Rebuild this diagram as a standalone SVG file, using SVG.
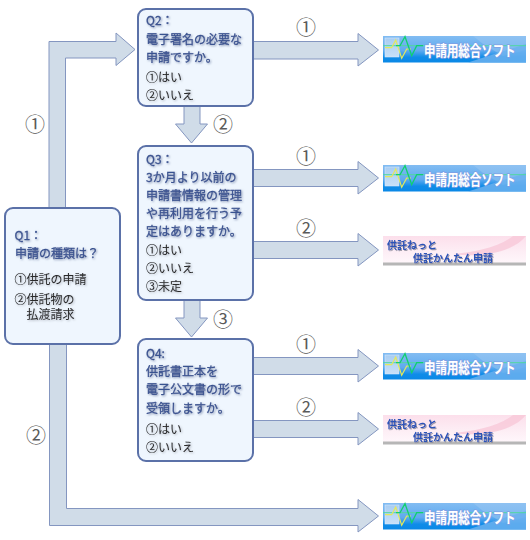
<svg xmlns="http://www.w3.org/2000/svg" xmlns:xlink="http://www.w3.org/1999/xlink" width="530" height="540" viewBox="0 0 530 540">
<style>
text{font-family:"Noto Sans CJK JP","Noto Sans",sans-serif}
.box{fill:#eff6fe;stroke:#5b71a8;stroke-width:2}
.arr{fill:#d0dce8;stroke:#8496c0;stroke-width:1}
.q{font-size:12px;fill:#3a5290;stroke:#3a5290;stroke-width:.3px;filter:url(#qs)}
.o{font-size:12px;fill:#2a2a2a;stroke:#2a2a2a;stroke-width:.15px;filter:url(#os)}
.n{font-size:20px;fill:#5a5a5a;text-anchor:middle}
.st{font-size:14.500px;font-weight:700;fill:#fff;stroke:#7f9fe4;stroke-width:1.5px;paint-order:stroke}
.pt{font-size:10px;font-weight:700;fill:#2a52b8;filter:url(#ps)}
</style>
<defs>
<filter id="qs" x="-10%" y="-30%" width="120%" height="170%"><feDropShadow dx="1" dy="1" stdDeviation="0.9" flood-color="#8090b0" flood-opacity="0.9"/></filter>
<filter id="os" x="-10%" y="-30%" width="120%" height="170%"><feDropShadow dx="1" dy="1" stdDeviation="0.8" flood-color="#a8aeb8" flood-opacity="0.8"/></filter>
<filter id="ps" x="-10%" y="-30%" width="120%" height="170%"><feDropShadow dx="1" dy="1" stdDeviation="0.5" flood-color="#8a8a9a" flood-opacity="0.8"/></filter>
<linearGradient id="bb" x1="0" y1="0" x2="0" y2="1"><stop offset="0" stop-color="#82bcf2"/><stop offset="0.55" stop-color="#5eaaf0"/><stop offset="0.8" stop-color="#0f8ce8"/><stop offset="1" stop-color="#0a88e6"/></linearGradient>
<linearGradient id="bs" x1="0" y1="0" x2="0" y2="1"><stop offset="0" stop-color="#a8cdf2"/><stop offset="1" stop-color="#c8e0f8"/></linearGradient>
<linearGradient id="pb" x1="0" y1="0" x2="0" y2="1"><stop offset="0" stop-color="#fcdfeb"/><stop offset="0.55" stop-color="#fdeef5"/><stop offset="1" stop-color="#fff8fc"/></linearGradient>
<g id="softbg">
<rect width="143" height="26.5" fill="url(#bb)"/>
<path d="M90 0L143 0L143 14L120 20L100 8Z" fill="#9cc8f2" opacity="0.5"/>
<path d="M85 26.5L143 8V26.5Z" fill="#6ab0ee" opacity="0.85"/>
<rect x="2" y="2" width="14" height="19" fill="url(#bs)" stroke="#d6e8fa" stroke-width="0.6"/>
<path d="M0 9.7H143" stroke="#4fd8a0" stroke-width="1" fill="none"/>
<path d="M2 11.7H8.7L12.7 4L18.7 22.3L23.7 13H28" stroke="#e4e85c" stroke-width="1.2" fill="none"/>
<path d="M13 9.7H17L22 .7L28.7 19.7L33.7 9.7H40" stroke="#10d070" stroke-width="1.3" fill="none"/>
</g>
<g id="pinkbg">
<rect width="143" height="29" fill="url(#pb)"/>
<path d="M70 18C90 16 115 12 130 0H143V0C130 16 100 22 70 18Z" fill="#f8c8d8" opacity="0.8"/>
<rect y="26.5" width="143" height="3" fill="#b6b6b6"/>
</g>
</defs>
<rect width="530" height="540" fill="#fff"/>
<g id="connectors">
<path class="arr" d="M49 208V41.5H116V33L135 49.5L116 65.5V58H65.500V208Z"/>
<path class="arr" d="M253 41.500H358V33.500L378.500 50L358 66V59H253Z"/>
<path class="arr" d="M184 106V124H175.500L191.500 143L207.500 124H200V106Z"/>
<path class="arr" d="M253 169.500H358V161.500L378.500 178L358 194V186.500H253Z"/>
<path class="arr" d="M253 241.500H358V233.500L378.500 250L358 266V258.500H253Z"/>
<path class="arr" d="M184 300V318H175.500L191.500 337L207.500 318H200V300Z"/>
<path class="arr" d="M253 357.500H358V349.500L378.500 366L358 382V374.500H253Z"/>
<path class="arr" d="M253 420.500H358V412.500L378.500 429L358 445V437.500H253Z"/>
<path class="arr" d="M49.500 344V525.500H358V532L378.500 516L358 499.500V508.500H66.500V344Z"/>
</g>
<g id="labels">
<text class="n" x="35" y="131.500">①</text>
<text class="n" x="223" y="131.500">②</text>
<text class="n" x="223" y="326.500">③</text>
<text class="n" x="36" y="442.500">②</text>
<text class="n" x="306" y="34.500">①</text>
<text class="n" x="306" y="163.500">①</text>
<text class="n" x="306" y="235.500">②</text>
<text class="n" x="306" y="351.500">①</text>
<text class="n" x="306" y="414.500">②</text>
</g>
<g id="q1">
<rect class="box" x="5" y="208" width="115" height="136" rx="8"/>
<text class="q" x="14.500" y="240">Q1：</text>
<text class="q" x="15" y="258">申請の種類は？</text>
<text class="o" x="14.500" y="283.500">①供託の申請</text>
<text class="o" x="14.500" y="303.500">②供託物の<tspan x="26.500" y="318.500">払渡請求</tspan></text>
</g>
<g id="q2">
<rect class="box" x="138" y="9" width="115" height="97" rx="8"/>
<text class="q" x="146" y="25">Q2：</text>
<text class="q" x="146" y="43.500">電子署名の必要な</text>
<text class="q" x="146" y="62">申請ですか。</text>
<text class="o" x="146" y="81.500">①はい</text>
<text class="o" x="146" y="99.500">②いいえ</text>
</g>
<g id="q3">
<rect class="box" x="138" y="146" width="115" height="154" rx="8"/>
<text class="q" x="146" y="163.500">Q3：</text>
<text class="q" x="146" y="181.500">3か月より以前の</text>
<text class="q" x="146" y="199.500">申請書情報の管理</text>
<text class="q" x="146" y="217.500">や再利用を行う予</text>
<text class="q" x="146" y="236">定はありますか。</text>
<text class="o" x="146" y="254.500">①はい</text>
<text class="o" x="146" y="272.500">②いいえ</text>
<text class="o" x="146" y="291">③未定</text>
</g>
<g id="q4">
<rect class="box" x="138" y="339" width="115" height="122" rx="8"/>
<text class="q" x="146" y="357.500">Q4:</text>
<text class="q" x="146" y="375.500">供託書正本を</text>
<text class="q" x="146" y="394">電子公文書の形で</text>
<text class="q" x="146" y="413">受領しますか。</text>
<text class="o" x="146" y="433.500">①はい</text>
<text class="o" x="146" y="451.500">②いいえ</text>
</g>
<g id="banner-soft-1" transform="translate(383 36)"><use xlink:href="#softbg" href="#softbg"/><text class="st" transform="translate(41 19.500) scale(.79 1)">申請用総合ソフト</text></g>
<g id="banner-soft-2" transform="translate(383 165)"><use xlink:href="#softbg" href="#softbg"/><text class="st" transform="translate(41 19.500) scale(.79 1)">申請用総合ソフト</text></g>
<g id="banner-pink-1" transform="translate(383 236)"><use xlink:href="#pinkbg" href="#pinkbg"/><text class="pt" x="4" y="13">供託ねっと</text><text class="pt" x="30" y="25.500">供託かんたん申請</text></g>
<g id="banner-soft-3" transform="translate(383 353)"><use xlink:href="#softbg" href="#softbg"/><text class="st" transform="translate(41 19.500) scale(.79 1)">申請用総合ソフト</text></g>
<g id="banner-pink-2" transform="translate(383 415)"><use xlink:href="#pinkbg" href="#pinkbg"/><text class="pt" x="4" y="13">供託ねっと</text><text class="pt" x="30" y="25.500">供託かんたん申請</text></g>
<g id="banner-soft-4" transform="translate(383 503)"><use xlink:href="#softbg" href="#softbg"/><text class="st" transform="translate(41 19.500) scale(.79 1)">申請用総合ソフト</text></g>
</svg>
